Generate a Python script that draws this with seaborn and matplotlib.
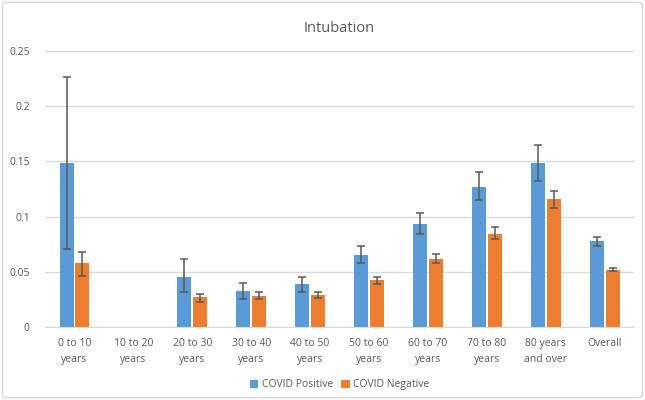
import numpy as np
import pandas as pd
import matplotlib
matplotlib.use('Agg')
import matplotlib.pyplot as plt
from matplotlib.patches import FancyBboxPatch
from matplotlib.ticker import FixedLocator
import seaborn as sns

# values
groups = ['0 to 10\nyears', '10 to 20\nyears', '20 to 30\nyears', '30 to 40\nyears',
          '40 to 50\nyears', '50 to 60\nyears', '60 to 70\nyears', '70 to 80\nyears',
          '80 years\nand over', 'Overall']
pos_rate = [0.149, 0.0, 0.0457, 0.0324, 0.039, 0.0651, 0.0932, 0.1271, 0.1486, 0.0775]
pos_low = [0.0703, np.nan, 0.0318, 0.0258, 0.0318, 0.0578, 0.0839, 0.1147, 0.1323, 0.0735]
pos_high = [0.226, np.nan, 0.0615, 0.0397, 0.0451, 0.0735, 0.1032, 0.1401, 0.1652, 0.0817]
neg_rate = [0.0576, 0.0, 0.027, 0.0279, 0.0288, 0.0427, 0.0617, 0.0844, 0.1156, 0.0518]
neg_low = [0.0466, np.nan, 0.0224, 0.0254, 0.026, 0.0385, 0.0578, 0.0793, 0.1075, 0.0503]
neg_high = [0.0675, np.nan, 0.0303, 0.0318, 0.0318, 0.0454, 0.0657, 0.0908, 0.1235, 0.053]
series = ['COVID Positive', 'COVID Negative']

df = pd.DataFrame({
    'group': groups * 2,
    'rate': pos_rate + neg_rate,
    'status': [series[0]] * len(groups) + [series[1]] * len(groups),
})

sns.set_style('white')
plt.rcParams['font.family'] = ['Open Sans', 'DejaVu Sans']
text_col = '#595959'
grid_col = '#d9d9d9'

fig = plt.figure(figsize=(6.45, 4.0), dpi=100)
ax = fig.add_axes([0.0698, 0.1825, 0.9132, 0.69])

sns.barplot(data=df, x='group', y='rate', hue='status', errorbar=None,
            palette=['#5B9BD5', '#ED7D31'], saturation=1, width=0.54, gap=0.12,
            linewidth=0, ax=ax, zorder=2)

# error bars at the bar centres
for cont, lo, hi, rate in zip(ax.containers, [pos_low, neg_low], [pos_high, neg_high],
                              [pos_rate, neg_rate]):
    xs = [b.get_x() + b.get_width() / 2 for b in cont]
    r = np.array(rate)
    yerr = [r - np.array(lo), np.array(hi) - r]
    ax.errorbar(xs, r, yerr=yerr, fmt='none', ecolor='#595959', elinewidth=1.1,
                capsize=3, capthick=1.1, zorder=3)

ax.set_ylim(0, 0.25)
ax.set_xlim(-0.5, len(groups) - 0.5)
yt = [0, 0.05, 0.1, 0.15, 0.2, 0.25]
ax.set_yticks(yt)
ax.set_yticklabels(['0', '0.05', '0.1', '0.15', '0.2', '0.25'])
ax.yaxis.grid(True, color=grid_col, linewidth=1)
ax.set_axisbelow(True)
ax.tick_params(axis='y', length=0, labelsize=7.5, labelcolor=text_col, pad=11)
ax.tick_params(axis='x', which='major', length=0, labelsize=7.5, labelcolor=text_col, pad=8)
for lbl in ax.get_xticklabels():
    lbl.set_linespacing(1.6)
ax.xaxis.set_minor_locator(FixedLocator(np.arange(-0.5, len(groups), 1.0)))
ax.tick_params(axis='x', which='minor', length=5, color=grid_col, width=1)
for s in ['top', 'right', 'left']:
    ax.spines[s].set_visible(False)
ax.spines['bottom'].set_color(grid_col)
ax.set_xlabel('')
ax.set_ylabel('')

ax.set_title('Intubation', fontsize=10.5, color=text_col, y=1.0, pad=14)

ax.legend(loc='center', bbox_to_anchor=(0.5, -0.21), ncol=2, frameon=False,
          fontsize=7.5, labelcolor=text_col, handlelength=0.8, handleheight=0.8,
          handletextpad=0.3, columnspacing=0.8)

fig.patches.append(FancyBboxPatch((0.004, 0.006), 0.992, 0.988,
                                  boxstyle='round,pad=0,rounding_size=0.008',
                                  transform=fig.transFigure, fill=False,
                                  edgecolor=grid_col, linewidth=1))

fig.savefig('out.png', dpi=100)
